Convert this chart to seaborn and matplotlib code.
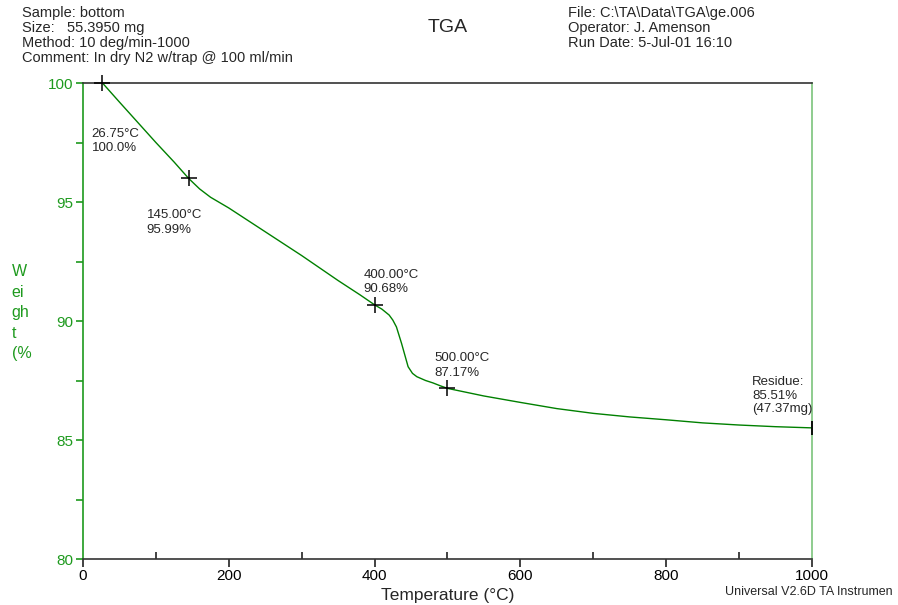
import matplotlib
matplotlib.use("Agg")
import matplotlib.pyplot as plt
import seaborn as sns
import pandas as pd
from matplotlib.ticker import MultipleLocator

# TGA weight-loss run
temperature = [26.75, 50, 75, 100, 125, 145, 160, 175, 200, 250, 300, 350, 380, 400,
               410, 420, 425, 430, 437, 446, 452, 458, 470, 480, 490, 500,
               550, 600, 650, 700, 750, 800, 850, 900, 950, 1000]
weight = [100.0, 99.2, 98.35, 97.5, 96.68, 95.99, 95.55, 95.2, 94.75, 93.75, 92.75, 91.7, 91.1, 90.68,
          90.5, 90.25, 90.04, 89.75, 89.06, 88.08, 87.8, 87.66, 87.5, 87.4, 87.28, 87.17,
          86.85, 86.58, 86.32, 86.12, 85.97, 85.85, 85.72, 85.63, 85.56, 85.51]

# labelled analysis points
mark_temp = [26.75, 145.00, 400.00, 500.00]
mark_weight = [100.0, 95.99, 90.68, 87.17]
residue_temp = 1000
residue_weight = 85.51
residue_mass = 47.37

header_left = ["Sample: bottom", "Size:   55.3950 mg", "Method: 10 deg/min-1000",
               "Comment: In dry N2 w/trap @ 100 ml/min"]
header_right = ["File: C:\\TA\\Data\\TGA\\ge.006", "Operator: J. Amenson",
                "Run Date: 5-Jul-01 16:10"]

sns.set_style("white")
plt.rcParams["font.family"] = ["Liberation Sans", "DejaVu Sans"]

GREEN = "#008000"
AXGREEN = "#1e9a1e"

fig = plt.figure(figsize=(8.98, 6.05), dpi=100)
ax = fig.add_axes([0.0924, 0.076, 0.8118, 0.7868])

df = pd.DataFrame({"Temperature": temperature, "Weight": weight})
sns.lineplot(data=df, x="Temperature", y="Weight", ax=ax, color=GREEN, lw=1.0)

ax.plot(mark_temp, mark_weight, ls="none", marker="+", ms=12, mew=1.1, color="black",
        clip_on=False, zorder=5)
ax.plot([residue_temp], [residue_weight], ls="none", marker="|", ms=10, mew=1.3, color="black",
        clip_on=False, zorder=5)

ax.set_xlim(0, 1000)
ax.set_ylim(80, 100)
ax.xaxis.set_major_locator(MultipleLocator(200))
ax.xaxis.set_minor_locator(MultipleLocator(100))
ax.yaxis.set_major_locator(MultipleLocator(5))
ax.yaxis.set_minor_locator(MultipleLocator(2.5))

ax.tick_params(axis="x", which="major", bottom=True, direction="out", length=6, width=1.2,
               color="#222222", labelcolor="black", labelsize=11, pad=1)
ax.tick_params(axis="x", which="minor", bottom=True, direction="in", length=5, width=1.2,
               color="#222222")
ax.tick_params(axis="y", which="both", left=True, direction="out", length=5, width=1.2,
               color=AXGREEN, labelcolor=AXGREEN, labelsize=11, pad=2)

for side, col in [("left", AXGREEN), ("right", "#7cc47c"), ("top", "#333333"), ("bottom", "#333333")]:
    ax.spines[side].set_visible(True)
    ax.spines[side].set_color(col)
    ax.spines[side].set_linewidth(1.2)

ax.set_xlabel("")
ax.set_ylabel("")
fig.text(0.498, 0.003, "Temperature (°C)", ha="center", va="bottom", fontsize=12.5)
fig.text(0.013, 0.483, "W\nei\ngh\nt\n(%", ha="left", va="center", fontsize=11.5,
         color=AXGREEN, linespacing=1.45)
fig.text(0.807, 0.012, "Universal V2.6D TA Instrumen", ha="left", va="bottom", fontsize=9)

fig.text(0.498, 0.955, "TGA", ha="center", va="center", fontsize=14)
fig.text(0.025, 0.99, "\n".join(header_left), ha="left", va="top", fontsize=10.5, linespacing=1.1)
fig.text(0.632, 0.99, "\n".join(header_right), ha="left", va="top", fontsize=10.5, linespacing=1.1)

offsets = [(-11, -45), (-42, -31), (-11, 36), (-13, 36)]
for t, w, off in zip(mark_temp, mark_weight, offsets):
    ax.annotate(f"{t:.2f}°C\n{w:.2f}%" if w != 100.0 else f"{t:.2f}°C\n{w:.1f}%",
                xy=(t, w), xytext=off, textcoords="offset pixels",
                ha="left", va="top", fontsize=9.5, linespacing=1.25)
ax.annotate(f"Residue:\n{residue_weight:.2f}%\n({residue_mass:.2f}mg)",
            xy=(residue_temp, residue_weight), xytext=(-60, 52), textcoords="offset pixels",
            ha="left", va="top", fontsize=9.5, linespacing=1.2, annotation_clip=False)

fig.savefig("out.png", dpi=100)
